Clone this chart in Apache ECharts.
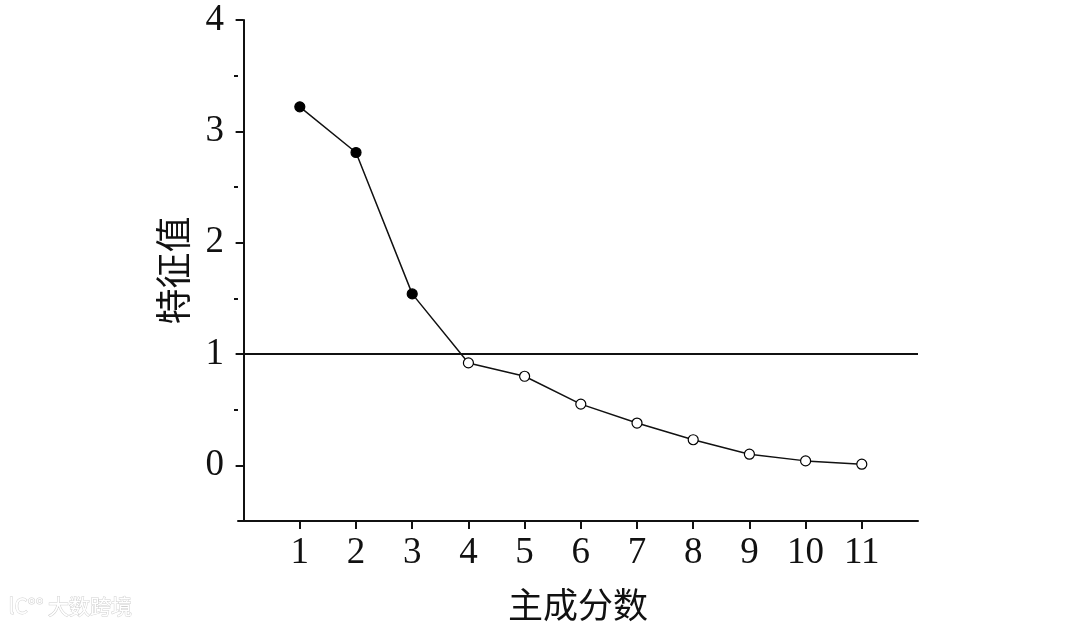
<!DOCTYPE html>
<html><head><meta charset="utf-8">
<script src="https://cdn.jsdelivr.net/npm/echarts@6/dist/echarts.min.js"></script>
<style>html,body{margin:0;padding:0;background:#fff}#c{width:1080px;height:630px}</style>
</head><body><div id="c"></div>
<script>
const components = [1,2,3,4,5,6,7,8,9,10,11];
const eigenvalues = [3.22,2.81,1.54,0.92,0.80,0.55,0.38,0.23,0.10,0.04,0.01];
const filledCount = 3; // components with eigenvalue > 1 drawn filled
const yMajorTicks = [0,1,2,3,4];
const yMinorTicks = [0.5,1.5,2.5,3.5];
const threshold = 1;
const xTitle = '主成分数';
const yTitle = '特征值';

const serif = '"Liberation Serif","DejaVu Serif",serif';
const cjk = '"Noto Sans CJK SC",sans-serif';
const chart = echarts.init(document.getElementById('c'));
const data = components.map((c,i)=>({
  value:[c, eigenvalues[i]],
  itemStyle: i < filledCount ? {color:'#000',borderColor:'#000',borderWidth:1.2}
                             : {color:'#fff',borderColor:'#000',borderWidth:1.2}
}));
chart.setOption({
  animation:false,
  grid:{left:238,right:162,top:20,bottom:109,outerBoundsMode:'none',containLabel:false},
  xAxis:{type:'value',min:-0.1,max:12,
    name:xTitle,nameLocation:'middle',nameGap:66,
    nameTextStyle:{fontFamily:cjk,fontSize:35,color:'#111'},
    axisLine:{show:true,onZero:false,lineStyle:{color:'#111',width:2}},
    axisTick:{show:true,customValues:components,length:8,lineStyle:{color:'#111',width:2}},
    axisLabel:{customValues:components,fontFamily:serif,fontSize:37,color:'#111',margin:14},
    splitLine:{show:false}},
  yAxis:[{type:'value',min:-0.5,max:4,
    name:yTitle,nameLocation:'middle',nameGap:47,nameRotate:90,
    nameTextStyle:{fontFamily:cjk,fontSize:36,color:'#111'},
    axisLine:{show:true,onZero:true,lineStyle:{color:'#111',width:2}},
    axisTick:{show:true,customValues:yMajorTicks,length:8,lineStyle:{color:'#111',width:2}},
    axisLabel:{customValues:yMajorTicks,fontFamily:serif,fontSize:37,color:'#111',margin:14},
    splitLine:{show:false}},
   {type:'value',min:-0.5,max:4,position:'left',
    axisLine:{show:false,onZero:true},
    axisTick:{show:true,customValues:yMinorTicks,length:4,lineStyle:{color:'#111',width:2}},
    axisLabel:{show:false},splitLine:{show:false}}],
  series:[{type:'line',data:data,symbol:'circle',symbolSize:10,
    lineStyle:{color:'#111',width:1.5},
    markLine:{silent:true,symbol:'none',label:{show:false},
      lineStyle:{color:'#111',width:2,type:'solid'},
      data:[[{coord:[0,threshold]},{coord:[12,threshold]}]]}}],
  graphic:[{type:'text',left:8,top:595,style:{text:'lC°° 大数跨境',fontFamily:cjk,fontSize:21,fill:'#fff',stroke:'#d0d0d0',lineWidth:1}}]
});
</script></body></html>
